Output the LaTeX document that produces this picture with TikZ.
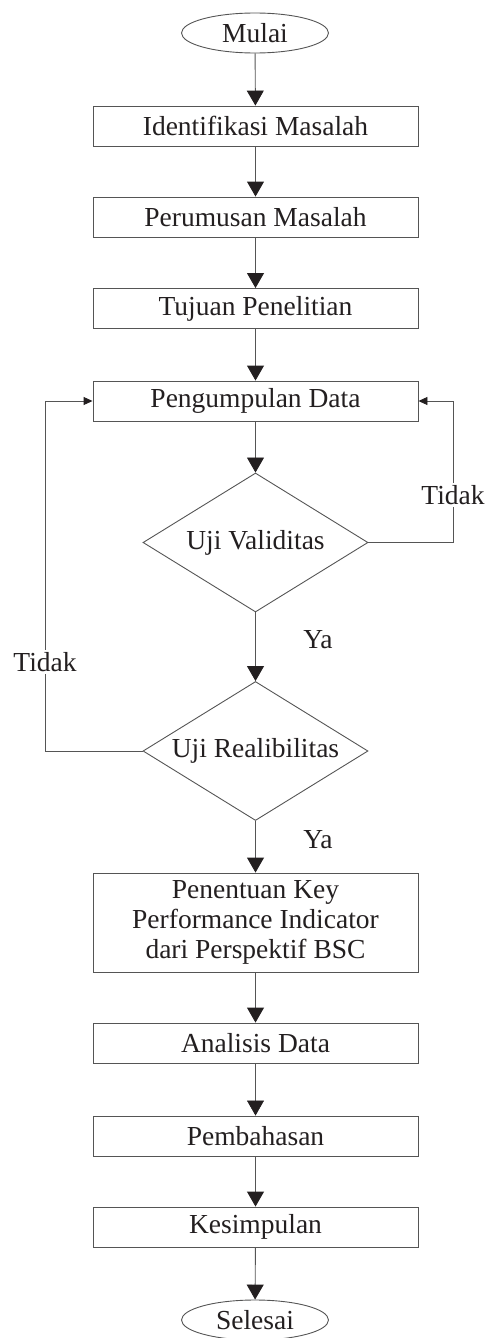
\documentclass[tikz,border=0pt]{standalone}
\usepackage{fontspec}
\setmainfont{Liberation Serif}
\usetikzlibrary{shapes.geometric,arrows.meta}

\definecolor{tinta}{HTML}{231F20}
\definecolor{garis}{HTML}{555555}

\tikzset{
  proses/.style={draw=garis, line width=0.9pt, minimum width=325pt, minimum height=40pt, inner sep=0pt},
  terminal/.style={ellipse, draw=garis, line width=0.9pt, minimum width=147pt, minimum height=40pt, inner sep=0pt},
  keputusan/.style={diamond, draw=garis, line width=0.9pt, aspect=1.6, minimum width=225pt, minimum height=139pt, inner sep=0pt},
  panah/.style={-{Triangle[width=17pt,length=15pt,color=tinta]}},
  panahkecil/.style={-{Triangle[width=8pt,length=9pt,color=tinta]}}
}

\begin{document}
\begin{tikzpicture}[x=1pt, y=-1pt, font=\fontsize{27.5}{30}\selectfont, text=tinta]

      \useasboundingbox (0,0) rectangle (488,1338);

      \begin{scope}
        \node[terminal]  (mulai)   at (255,33)   {Mulai};
        \node[proses]    (identif) at (255.5,126)  {Identifikasi Masalah};
        \node[proses]    (rumus)   at (255.5,217)  {Perumusan Masalah};
        \node[proses]    (tujuan)  at (255.5,308.5){Tujuan Penelitian};
        \node[proses]    (kumpul)  at (255.5,401)  {Pengumpulan Data};
        \node[keputusan] (valid)   at (255.5,542.5){Uji Validitas};
        \node[keputusan] (reliab)  at (255.5,751)  {Uji Realibilitas};
        \node[proses, minimum height=99pt, align=center] (kpi) at (255.5,922.5)
          {Penentuan Key\\Performance Indicator\\dari Perspektif BSC};
        \node[proses]    (analisis) at (255.5,1043) {Analisis Data};
        \node[proses]    (bahas)    at (255.5,1136) {Pembahasan};
        \node[proses]    (simpul)   at (255.5,1227) {Kesimpulan};
        \node[terminal]  (selesai)  at (255,1320)   {Selesai};
      \end{scope}

      \coordinate (kanan) at (453,542.5);
      \coordinate (kiri)  at (45,751);

      \begin{scope}[every edge/.style={draw=garis, line width=0.9pt, panah}]
        \path (mulai)    edge (identif);
        \path (identif)  edge (rumus);
        \path (rumus)    edge (tujuan);
        \path (tujuan)   edge (kumpul);
        \path (kumpul)   edge (valid);
        \path (valid)    edge (reliab);
        \path (reliab)   edge (kpi);
        \path (kpi)      edge (analisis);
        \path (analisis) edge[line width=0.5pt] (bahas);
        \path (bahas)    edge (simpul);
        \path (simpul)   edge (selesai);
      \end{scope}

      % jalur kembali
      \draw[draw=garis, line width=0.9pt, panahkecil] (valid.east) -- (kanan) -- (kanan |- kumpul.east) -- (kumpul.east);
      \draw[draw=garis, line width=0.9pt, panahkecil] (reliab.west) -- (kiri) -- (kiri |- kumpul.west) -- (kumpul.west);

      \begin{scope}[every node/.style={inner sep=2pt}]
        \node[fill=white] (tidak1) at (453,495) {Tidak};
        \node[fill=white] (tidak2) at (45,662)  {Tidak};
        \node (ya1) at (318,640) {Ya};
        \node (ya2) at (318,840) {Ya};
      \end{scope}

    \end{tikzpicture}
\end{document}
